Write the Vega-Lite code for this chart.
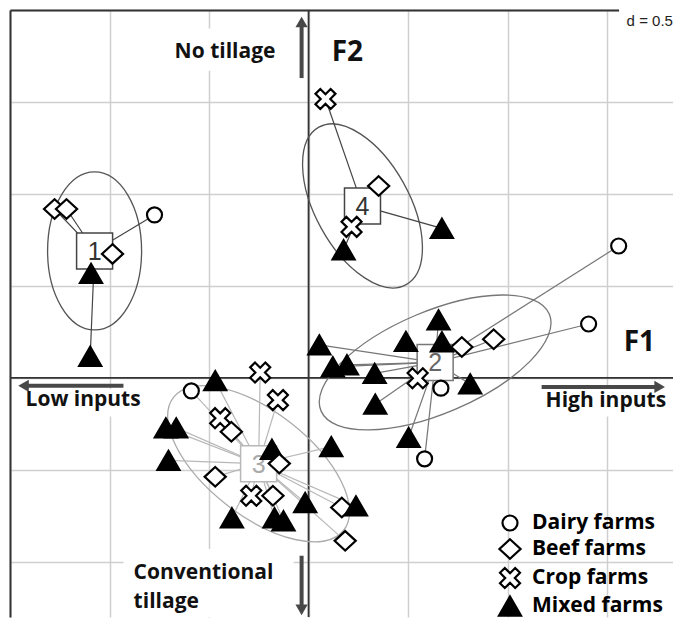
{
  "$schema": "https://vega.github.io/schema/vega-lite/v6.json",
  "width": 663,
  "height": 607,
  "autosize": {"type": "none"},
  "padding": {"left": 10, "top": 10, "right": 0, "bottom": 3},
  "background": "white",
  "view": {"stroke": null},
  "config": {"font": "Open Sans"},
  "datasets": {
    "points": [
      {"type": "Beef farms", "cluster": "1", "x": -1.276, "y": 0.918},
      {"type": "Beef farms", "cluster": "1", "x": -1.216, "y": 0.918},
      {"type": "Beef farms", "cluster": "1", "x": -0.985, "y": 0.674},
      {"type": "Dairy farms", "cluster": "1", "x": -0.774, "y": 0.886},
      {"type": "Mixed farms", "cluster": "1", "x": -1.093, "y": 0.568},
      {"type": "Mixed farms", "cluster": "1", "x": -1.097, "y": 0.117},
      {"type": "Crop farms", "cluster": "4", "x": 0.085, "y": 1.516},
      {"type": "Beef farms", "cluster": "4", "x": 0.352, "y": 1.043},
      {"type": "Crop farms", "cluster": "4", "x": 0.216, "y": 0.821},
      {"type": "Mixed farms", "cluster": "4", "x": 0.176, "y": 0.696},
      {"type": "Mixed farms", "cluster": "4", "x": 0.670, "y": 0.813},
      {"type": "Mixed farms", "cluster": "2", "x": 0.054, "y": 0.179},
      {"type": "Mixed farms", "cluster": "2", "x": 0.122, "y": 0.060},
      {"type": "Mixed farms", "cluster": "2", "x": 0.193, "y": 0.071},
      {"type": "Mixed farms", "cluster": "2", "x": 0.332, "y": 0.024},
      {"type": "Mixed farms", "cluster": "2", "x": 0.489, "y": 0.198},
      {"type": "Mixed farms", "cluster": "2", "x": 0.653, "y": 0.315},
      {"type": "Mixed farms", "cluster": "2", "x": 0.670, "y": 0.196},
      {"type": "Beef farms", "cluster": "2", "x": 0.770, "y": 0.168},
      {"type": "Beef farms", "cluster": "2", "x": 0.930, "y": 0.210},
      {"type": "Crop farms", "cluster": "2", "x": 0.548, "y": -0.002},
      {"type": "Dairy farms", "cluster": "2", "x": 0.665, "y": -0.056},
      {"type": "Mixed farms", "cluster": "2", "x": 0.812, "y": -0.033},
      {"type": "Mixed farms", "cluster": "2", "x": 0.335, "y": -0.143},
      {"type": "Mixed farms", "cluster": "2", "x": 0.503, "y": -0.324},
      {"type": "Dairy farms", "cluster": "2", "x": 0.583, "y": -0.440},
      {"type": "Dairy farms", "cluster": "2", "x": 1.558, "y": 0.717},
      {"type": "Dairy farms", "cluster": "2", "x": 1.407, "y": 0.293},
      {"type": "Crop farms", "cluster": "3", "x": -0.243, "y": 0.029},
      {"type": "Mixed farms", "cluster": "3", "x": -0.469, "y": -0.015},
      {"type": "Dairy farms", "cluster": "3", "x": -0.589, "y": -0.071},
      {"type": "Crop farms", "cluster": "3", "x": -0.154, "y": -0.121},
      {"type": "Crop farms", "cluster": "3", "x": -0.444, "y": -0.219},
      {"type": "Beef farms", "cluster": "3", "x": -0.388, "y": -0.293},
      {"type": "Mixed farms", "cluster": "3", "x": -0.717, "y": -0.272},
      {"type": "Mixed farms", "cluster": "3", "x": -0.665, "y": -0.272},
      {"type": "Mixed farms", "cluster": "3", "x": -0.704, "y": -0.449},
      {"type": "Mixed farms", "cluster": "3", "x": -0.184, "y": -0.388},
      {"type": "Beef farms", "cluster": "3", "x": -0.147, "y": -0.466},
      {"type": "Mixed farms", "cluster": "3", "x": 0.114, "y": -0.374},
      {"type": "Beef farms", "cluster": "3", "x": -0.469, "y": -0.538},
      {"type": "Crop farms", "cluster": "3", "x": -0.288, "y": -0.641},
      {"type": "Beef farms", "cluster": "3", "x": -0.179, "y": -0.641},
      {"type": "Mixed farms", "cluster": "3", "x": -0.017, "y": -0.678},
      {"type": "Mixed farms", "cluster": "3", "x": -0.385, "y": -0.761},
      {"type": "Mixed farms", "cluster": "3", "x": -0.171, "y": -0.761},
      {"type": "Mixed farms", "cluster": "3", "x": -0.126, "y": -0.777},
      {"type": "Beef farms", "cluster": "3", "x": 0.167, "y": -0.705},
      {"type": "Mixed farms", "cluster": "3", "x": 0.238, "y": -0.696},
      {"type": "Beef farms", "cluster": "3", "x": 0.184, "y": -0.886}
    ],
    "centers": [
      {"cluster": "1", "x": -1.075, "y": 0.690},
      {"cluster": "2", "x": 0.636, "y": 0.084},
      {"cluster": "3", "x": -0.251, "y": -0.467},
      {"cluster": "4", "x": 0.271, "y": 0.935}
    ],
    "blanks": [
      {"x": -0.70, "x2": -0.15, "y": 1.67, "y2": 1.90},
      {"x": -0.93, "x2": -0.075, "y": -1.30, "y2": -0.93},
      {"x": -1.46, "x2": -0.80, "y": -0.21, "y2": -0.06},
      {"x": 1.16, "x2": 1.83, "y": -0.21, "y2": -0.06},
      {"x": 1.56, "x2": 1.84, "y": 1.88, "y2": 2.05}
    ],
    "axislines": [
      {"x": 0, "x2": 0, "y": -1.3, "y2": 2.0},
      {"x": -1.5, "x2": 1.84, "y": 0, "y2": 0}
    ],
    "arrows": [
      {"dir": "up", "x": -0.035, "y": 1.63, "x2": -0.035, "y2": 1.935},
      {"dir": "down", "x": -0.035, "y": -0.967, "x2": -0.035, "y2": -1.261},
      {"dir": "left", "x": -0.93, "y": -0.043, "x2": -1.432, "y2": -0.043},
      {"dir": "right", "x": 1.171, "y": -0.049, "x2": 1.764, "y2": -0.049}
    ],
    "labels": [
      {"label": "No tillage", "x": -0.673, "y": 1.739},
      {"label": "Low inputs", "x": -1.422, "y": -0.152},
      {"label": "High inputs", "x": 1.191, "y": -0.158},
      {"label": "Conventional", "x": -0.879, "y": -1.092},
      {"label": "tillage", "x": -0.879, "y": -1.250}
    ],
    "axisnames": [
      {"label": "F2", "x": 0.116, "y": 1.723},
      {"label": "F1", "x": 1.583, "y": 0.147}
    ],
    "scalenote": [
      {"label": "d = 0.5", "x": 1.598, "y": 1.913}
    ]
  },
  "encoding": {
    "x": {"field": "x", "type": "quantitative",
      "scale": {"domain": [-1.5, 1.831], "nice": false, "zero": false},
      "axis": {"orient": "top", "values": [-1.5, -1, -0.5, 0, 0.5, 1, 1.5], "grid": true, "gridColor": "#cfcfcf", "gridWidth": 1.5, "domain": true, "domainColor": "#333333", "domainWidth": 2, "ticks": false, "labels": false, "title": null}},
    "y": {"field": "y", "type": "quantitative",
      "scale": {"domain": [-1.3, 2.0], "nice": false, "zero": false},
      "axis": {"orient": "left", "values": [-1, -0.5, 0, 0.5, 1, 1.5, 2], "grid": true, "gridColor": "#cfcfcf", "gridWidth": 1.5, "domain": true, "domainColor": "#333333", "domainWidth": 2, "ticks": false, "labels": false, "title": null}}
  },
  "layer": [
    {
      "data": {"name": "blanks"},
      "mark": {"type": "rect", "fill": "white"},
      "encoding": {"x2": {"field": "x2"}, "y2": {"field": "y2"}}
    },
    {
      "data": {"name": "axislines"},
      "mark": {"type": "rule", "stroke": "#333333", "strokeWidth": 1.8},
      "encoding": {"x2": {"field": "x2"}, "y2": {"field": "y2"}}
    },
    {
      "data": {"name": "centers"},
      "transform": [{"filter": "datum.cluster == '1'"}],
      "mark": {"type": "point", "shape": "M1,0C1,0.329 0.552,0.595 0,0.595C-0.552,0.595 -1,0.329 -1,0C-1,-0.329 -0.552,-0.595 0,-0.595C0.552,-0.595 1,-0.329 1,0Z", "size": 24964, "angle": 90, "filled": false, "stroke": "#555555", "strokeWidth": 1.3, "opacity": 1},
      "encoding": {}
    },
    {
      "data": {"name": "centers"},
      "transform": [{"filter": "datum.cluster == '4'"}],
      "mark": {"type": "point", "shape": "M1,0C1,0.288 0.552,0.522 0,0.522C-0.552,0.522 -1,0.288 -1,0C-1,-0.288 -0.552,-0.522 0,-0.522C0.552,-0.522 1,-0.288 1,0Z", "size": 32400, "angle": 61, "filled": false, "stroke": "#555555", "strokeWidth": 1.3, "opacity": 1},
      "encoding": {}
    },
    {
      "data": {"name": "centers"},
      "transform": [{"filter": "datum.cluster == '2'"}],
      "mark": {"type": "point", "shape": "M1,0C1,0.227 0.552,0.411 0,0.411C-0.552,0.411 -1,0.227 -1,0C-1,-0.227 -0.552,-0.411 0,-0.411C0.552,-0.411 1,-0.227 1,0Z", "size": 61504, "angle": 337, "filled": false, "stroke": "#777777", "strokeWidth": 1.3, "opacity": 1},
      "encoding": {}
    },
    {
      "data": {"name": "centers"},
      "transform": [{"filter": "datum.cluster == '3'"}],
      "mark": {"type": "point", "shape": "M1,0C1,0.266 0.552,0.481 0,0.481C-0.552,0.481 -1,0.266 -1,0C-1,-0.266 -0.552,-0.481 0,-0.481C0.552,-0.481 1,-0.266 1,0Z", "size": 46656, "angle": 38, "filled": false, "stroke": "#ababab", "strokeWidth": 1.3, "opacity": 1},
      "encoding": {}
    },
    {
      "data": {"name": "points"},
      "transform": [{"lookup": "cluster", "from": {"data": {"name": "centers"}, "key": "cluster", "fields": ["x", "y"]}, "as": ["cx", "cy"]}],
      "mark": {"type": "rule", "strokeWidth": 1.2},
      "encoding": {
        "x2": {"field": "cx"},
        "y2": {"field": "cy"},
        "stroke": {"field": "cluster", "type": "nominal", "scale": {"domain": ["1", "2", "3", "4"], "range": ["#444444", "#777777", "#b8b8b8", "#444444"]}, "legend": null}
      }
    },
    {
      "data": {"name": "centers"},
      "mark": {"type": "point", "shape": "square", "size": 1296, "filled": true, "fill": "white", "strokeWidth": 1.5, "opacity": 1},
      "encoding": {
        "stroke": {"field": "cluster", "type": "nominal", "legend": null}
      }
    },
    {
      "data": {"name": "centers"},
      "transform": [{"filter": "datum.cluster == '1' || datum.cluster == '4'"}],
      "mark": {"type": "text", "font": "Liberation Sans", "fontSize": 25, "align": "center", "baseline": "middle", "dy": 1, "fill": "#333333"},
      "encoding": {"text": {"field": "cluster"}}
    },
    {
      "data": {"name": "centers"},
      "transform": [{"filter": "datum.cluster == '2'"}],
      "mark": {"type": "text", "font": "Liberation Sans", "fontSize": 25, "align": "center", "baseline": "middle", "dy": 1, "fill": "#666666"},
      "encoding": {"text": {"field": "cluster"}}
    },
    {
      "data": {"name": "centers"},
      "transform": [{"filter": "datum.cluster == '3'"}],
      "mark": {"type": "text", "font": "Liberation Sans", "fontSize": 25, "align": "center", "baseline": "middle", "dy": 1, "fill": "#aaaaaa"},
      "encoding": {"text": {"field": "cluster"}}
    },
    {
      "data": {"name": "points"},
      "mark": {"type": "point", "filled": false, "size": 529, "strokeWidth": 2.2, "opacity": 1},
      "encoding": {
        "shape": {"field": "type", "type": "nominal",
          "scale": {"domain": ["Dairy farms", "Beef farms", "Crop farms", "Mixed farms"],
            "range": [
              "M0.652,0C0.652,0.36 0.36,0.652 0,0.652C-0.36,0.652 -0.652,0.36 -0.652,0C-0.652,-0.36 -0.36,-0.652 0,-0.652C0.36,-0.652 0.652,-0.36 0.652,0Z",
              "M0,-0.85L0.92,0L0,0.85L-0.92,0Z",
              "M0.45,-0.87L0.87,-0.45L0.42,0L0.87,0.45L0.45,0.87L0,0.42L-0.45,0.87L-0.87,0.45L-0.42,0L-0.87,-0.45L-0.45,-0.87L0,-0.42Z",
              "M0,-0.83L0.96,0.83L-0.96,0.83Z"
            ]},
          "legend": {"orient": "none", "legendX": 487, "legendY": 500, "title": null, "padding": 0, "rowPadding": -1, "labelFont": "Open Sans", "labelFontWeight": "bold", "labelFontSize": 21, "labelColor": "black", "labelOffset": 9, "symbolSize": 529, "symbolStrokeWidth": 2.2}},
        "color": {"field": "type", "type": "nominal",
          "scale": {"domain": ["Dairy farms", "Beef farms", "Crop farms", "Mixed farms"], "range": ["black", "black", "black", "black"]},
          "legend": {"orient": "none", "legendX": 487, "legendY": 500, "title": null, "padding": 0, "rowPadding": -1, "labelFont": "Open Sans", "labelFontWeight": "bold", "labelFontSize": 21, "labelColor": "black", "labelOffset": 9, "symbolSize": 529, "symbolStrokeWidth": 2.2}},
        "fill": {"field": "type", "type": "nominal",
          "scale": {"domain": ["Dairy farms", "Beef farms", "Crop farms", "Mixed farms"], "range": ["white", "white", "white", "black"]},
          "legend": {"orient": "none", "legendX": 487, "legendY": 500, "title": null, "padding": 0, "rowPadding": -1, "labelFont": "Open Sans", "labelFontWeight": "bold", "labelFontSize": 21, "labelColor": "black", "labelOffset": 9, "symbolSize": 529, "symbolStrokeWidth": 2.2}}
      }
    },
    {
      "data": {"name": "arrows"},
      "mark": {"type": "rule", "stroke": "#484848", "strokeWidth": 4},
      "encoding": {"x2": {"field": "x2"}, "y2": {"field": "y2"}}
    },
    {
      "data": {"name": "arrows"},
      "transform": [{"filter": "datum.dir == 'up'"}],
      "mark": {"type": "point", "shape": "triangle-up", "filled": true, "fill": "#484848", "size": 150, "opacity": 1},
      "encoding": {"x": {"field": "x2", "type": "quantitative"}, "y": {"field": "y2", "type": "quantitative"}}
    },
    {
      "data": {"name": "arrows"},
      "transform": [{"filter": "datum.dir == 'down'"}],
      "mark": {"type": "point", "shape": "triangle-down", "filled": true, "fill": "#484848", "size": 150, "opacity": 1},
      "encoding": {"x": {"field": "x2", "type": "quantitative"}, "y": {"field": "y2", "type": "quantitative"}}
    },
    {
      "data": {"name": "arrows"},
      "transform": [{"filter": "datum.dir == 'left'"}],
      "mark": {"type": "point", "shape": "triangle-left", "filled": true, "fill": "#484848", "size": 150, "opacity": 1},
      "encoding": {"x": {"field": "x2", "type": "quantitative"}, "y": {"field": "y2", "type": "quantitative"}}
    },
    {
      "data": {"name": "arrows"},
      "transform": [{"filter": "datum.dir == 'right'"}],
      "mark": {"type": "point", "shape": "triangle-right", "filled": true, "fill": "#484848", "size": 150, "opacity": 1},
      "encoding": {"x": {"field": "x2", "type": "quantitative"}, "y": {"field": "y2", "type": "quantitative"}}
    },
    {
      "data": {"name": "labels"},
      "mark": {"type": "text", "font": "Open Sans", "fontWeight": "bold", "fontSize": 21, "align": "left", "baseline": "alphabetic", "color": "#111111"},
      "encoding": {"text": {"field": "label"}}
    },
    {
      "data": {"name": "axisnames"},
      "mark": {"type": "text", "font": "Open Sans", "fontWeight": "bold", "fontSize": 28, "align": "left", "baseline": "alphabetic", "color": "#111111"},
      "encoding": {"text": {"field": "label"}}
    },
    {
      "data": {"name": "scalenote"},
      "mark": {"type": "text", "font": "Liberation Sans", "fontSize": 15, "align": "left", "baseline": "alphabetic", "color": "#222222"},
      "encoding": {"text": {"field": "label"}}
    }
  ]
}
